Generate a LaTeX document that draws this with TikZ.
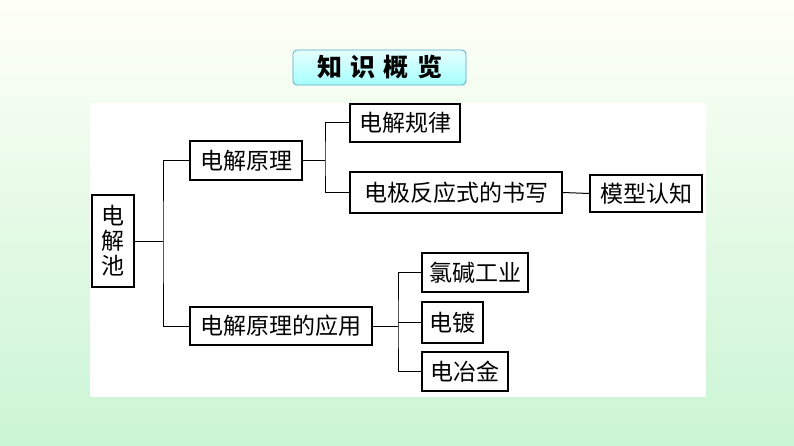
\documentclass[tikz,border=0pt]{standalone}
\usepackage{fontspec}
\newfontfamily\cjk{Noto Sans CJK SC}
\begin{document}
\begin{tikzpicture}[x=1pt,y=-1pt,
 bx/.style={draw=black,line width=1.3pt,fill=white,inner sep=0pt,font=\cjk\fontsize{23}{25}\selectfont},
 ln/.style={line width=1pt}]
\shade[top color=green!5!yellow!3!white,bottom color=green!14!white!92!teal] (0,0) rectangle (794,446);
\useasboundingbox (0,0) rectangle (794,446);
\fill[white] (90,103) rectangle (706,397);
\node[draw=cyan!60!gray,line width=0.8pt,rounded corners=4pt,top color=cyan!10,bottom color=cyan!35,minimum width=173,minimum height=35,inner sep=0pt,font=\cjk\bfseries\fontsize{25}{26}\selectfont] (t) at (379.5,67.5) {知\,\,识\,\,概\,\,览};
\node[bx,minimum width=42,minimum height=92,align=center,font=\cjk\fontsize{23}{25}\selectfont] (a) at (113,241) {电\\解\\池};
\node[bx,minimum width=112,minimum height=39] (b) at (246,160.5) {电解原理};
\node[bx,minimum width=182,minimum height=38] (c) at (281,326) {电解原理的应用};
\node[bx,minimum width=110,minimum height=38] (d) at (405,123) {电解规律};
\node[bx,minimum width=212,minimum height=41] (e) at (456,192.5) {电极反应式的书写};
\node[bx,minimum width=112,minimum height=37] (f) at (646,193.5) {模型认知};
\node[bx,minimum width=106,minimum height=39] (g) at (475,272.5) {氯碱工业};
\node[bx,minimum width=61,minimum height=41] (h) at (452.5,322.5) {电镀};
\node[bx,minimum width=86,minimum height=39] (i) at (465,371.5) {电冶金};
\draw[ln] (a.east) -- (163,241);
\draw[ln] (b.west) -| (163,241) |- (c.west);
\draw[ln] (b.east) -- (325,160.5);
\draw[ln] (d.west) -| (325,160.5) |- (e.west);
\draw[ln] (e.east) -- (f.west);
\draw[ln] (c.east) -- (398,326);
\draw[ln] (g.west) -| (398,326) |- (i.west);
\draw[ln] (398,322.5) -- (h.west);
\end{tikzpicture}
\end{document}
